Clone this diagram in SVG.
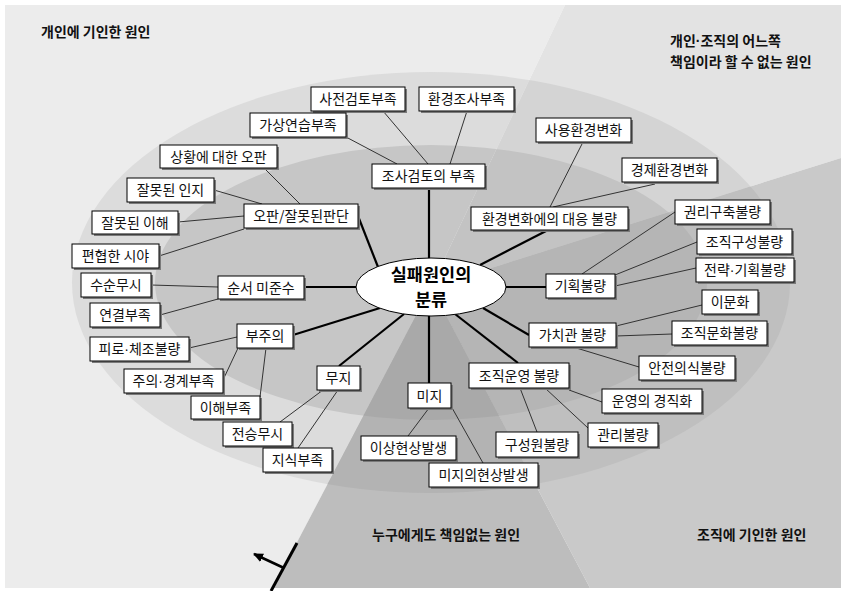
<svg xmlns="http://www.w3.org/2000/svg" width="845" height="591" viewBox="0 0 845 591">
<style>
.box{fill:#ffffff;stroke:#000000;stroke-width:1}
.sh{fill:#7a7a7a}
.t{font-family:"Noto Sans CJK KR","Noto Sans",sans-serif;font-size:14px;fill:#111111;text-anchor:middle}
.lbl{font-family:"Noto Sans CJK KR","Noto Sans",sans-serif;font-size:14px;font-weight:bold;fill:#111111}
.dot{font-family:"Liberation Sans",sans-serif}
.thin{stroke:#333333;stroke-width:1;fill:none}
.thick{stroke:#000000;stroke-width:2.2;fill:none}
.ctr{font-family:"Noto Sans CJK KR","Noto Sans",sans-serif;font-size:17.5px;font-weight:bold;fill:#000000;text-anchor:middle}
</style>
<defs>
<clipPath id="cInd"><polygon points="431,287 565,5 5,5 5,588 273,588"/></clipPath>
<clipPath id="cTr"><polygon points="431,287 565,5 841,5 841,158"/></clipPath>
<clipPath id="cOrg"><polygon points="431,287 841,158 841,588 590,588"/></clipPath>
<clipPath id="cNone"><polygon points="431,287 590,588 273,588"/></clipPath>
<marker id="ah" markerUnits="userSpaceOnUse" markerWidth="10" markerHeight="9" refX="9" refY="4.5" orient="auto"><path d="M0,0 L10,4.5 L0,9 z" fill="#000"/></marker>
</defs>
<rect x="0" y="0" width="845" height="591" fill="#ffffff"/>
<g id="background">
<g clip-path="url(#cInd)">
<rect x="5" y="5" width="836" height="583" fill="#ececec"/>
<ellipse cx="431" cy="282.5" rx="359" ry="210.5" fill="#dcdcdc"/>
<ellipse cx="431" cy="282.5" rx="276" ry="137.5" fill="#c6c6c6"/>
</g>
<g clip-path="url(#cTr)">
<rect x="5" y="5" width="836" height="583" fill="#e3e3e3"/>
<ellipse cx="431" cy="282.5" rx="359" ry="210.5" fill="#d4d4d4"/>
<ellipse cx="431" cy="282.5" rx="276" ry="137.5" fill="#c3c3c3"/>
</g>
<g clip-path="url(#cOrg)">
<rect x="5" y="5" width="836" height="583" fill="#c9c9c9"/>
<ellipse cx="431" cy="282.5" rx="359" ry="210.5" fill="#bfbfbf"/>
<ellipse cx="431" cy="282.5" rx="276" ry="137.5" fill="#b5b5b5"/>
</g>
<g clip-path="url(#cNone)">
<rect x="5" y="5" width="836" height="583" fill="#bdbdbd"/>
<ellipse cx="431" cy="282.5" rx="359" ry="210.5" fill="#b3b3b3"/>
<ellipse cx="431" cy="282.5" rx="276" ry="137.5" fill="#a9a9a9"/>
</g>
</g>
<g id="region-labels">
<text class="lbl" x="41" y="37">개인에 기인한 원인</text>
<text class="lbl" x="670" y="46">개인<tspan class="dot">·</tspan>조직의 어느쪽</text>
<text class="lbl" x="670" y="66.5">책임이라 할 수 없는 원인</text>
<text class="lbl" x="372" y="540">누구에게도 책임없는 원인</text>
<text class="lbl" x="697" y="540">조직에 기인한 원인</text>
</g>
<g id="connectors">
<line class="thin" x1="346" y1="137" x2="397" y2="164"/>
<line class="thin" x1="383" y1="111" x2="428" y2="164"/>
<line class="thin" x1="467" y1="111" x2="450" y2="164"/>
<line class="thin" x1="583" y1="142" x2="550" y2="207"/>
<line class="thin" x1="655" y1="184" x2="553" y2="207"/>
<line class="thin" x1="264" y1="168" x2="300" y2="204"/>
<line class="thin" x1="214" y1="190" x2="262" y2="204"/>
<line class="thin" x1="178" y1="222" x2="244" y2="216"/>
<line class="thin" x1="159" y1="256" x2="244" y2="229"/>
<line class="thin" x1="151" y1="285" x2="218" y2="287"/>
<line class="thin" x1="160" y1="315" x2="218" y2="299"/>
<line class="thin" x1="189" y1="348" x2="237" y2="337"/>
<line class="thin" x1="223" y1="380" x2="238" y2="348"/>
<line class="thin" x1="260" y1="397" x2="266" y2="348"/>
<line class="thin" x1="280" y1="422" x2="323" y2="390"/>
<line class="thin" x1="298" y1="448" x2="338" y2="390"/>
<line class="thin" x1="408" y1="436" x2="429" y2="408"/>
<line class="thin" x1="483" y1="463" x2="451" y2="406"/>
<line class="thin" x1="537" y1="432" x2="520" y2="388"/>
<line class="thin" x1="588" y1="428" x2="545" y2="388"/>
<line class="thin" x1="602" y1="402" x2="569" y2="390"/>
<line class="thin" x1="639" y1="367" x2="573" y2="347"/>
<line class="thin" x1="672" y1="334" x2="616" y2="336"/>
<line class="thin" x1="702" y1="305" x2="616" y2="326"/>
<line class="thin" x1="675" y1="212" x2="582" y2="274"/>
<line class="thin" x1="697" y1="242" x2="615" y2="275"/>
<line class="thin" x1="696" y1="268" x2="615" y2="286"/>
<line class="thick" x1="429" y1="188" x2="429" y2="259"/>
<line class="thick" x1="358" y1="216" x2="378" y2="267"/>
<line class="thick" x1="304" y1="287" x2="357" y2="287"/>
<line class="thick" x1="293" y1="335" x2="380" y2="308"/>
<line class="thick" x1="339" y1="366" x2="404" y2="314"/>
<line class="thick" x1="429" y1="383" x2="429" y2="316"/>
<line class="thick" x1="518" y1="363" x2="455" y2="314"/>
<line class="thick" x1="529" y1="335" x2="483" y2="308"/>
<line class="thick" x1="546" y1="287" x2="505" y2="287"/>
<line class="thick" x1="548" y1="230" x2="480" y2="265"/>
<line x1="297" y1="543" x2="271" y2="591" stroke="#000" stroke-width="3"/>
<line x1="284" y1="568" x2="254" y2="554" stroke="#000" stroke-width="2.5" marker-end="url(#ah)"/>
</g>
<g id="center">
<ellipse cx="431" cy="287" rx="75" ry="29" fill="#ffffff" stroke="#000" stroke-width="1"/>
<text class="ctr" x="431" y="280.5">실패원인의</text>
<text class="ctr" x="431" y="306">분류</text>
</g>
<g id="n1"><rect class="sh" x="313" y="89" width="94" height="24"/><rect class="box" x="311" y="87" width="94" height="24"/><text class="t" x="358" y="104">사전검토부족</text></g>
<g id="n2"><rect class="sh" x="421" y="89" width="95" height="24"/><rect class="box" x="419" y="87" width="95" height="24"/><text class="t" x="466.5" y="104">환경조사부족</text></g>
<g id="n3"><rect class="sh" x="252" y="115" width="96" height="24"/><rect class="box" x="250" y="113" width="96" height="24"/><text class="t" x="298" y="130">가상연습부족</text></g>
<g id="n4"><rect class="sh" x="374" y="166" width="113" height="24"/><rect class="box" x="372" y="164" width="113" height="24"/><text class="t" x="428.5" y="181">조사검토의 부족</text></g>
<g id="n5"><rect class="sh" x="538" y="120" width="95" height="24"/><rect class="box" x="536" y="118" width="95" height="24"/><text class="t" x="583.5" y="135">사용환경변화</text></g>
<g id="n6"><rect class="sh" x="624" y="160" width="95" height="24"/><rect class="box" x="622" y="158" width="95" height="24"/><text class="t" x="669.5" y="175">경제환경변화</text></g>
<g id="n7"><rect class="sh" x="473" y="209" width="157" height="23"/><rect class="box" x="471" y="207" width="157" height="23"/><text class="t" x="549.5" y="223.5">환경변화에의 대응 불량</text></g>
<g id="n8"><rect class="sh" x="162" y="147" width="117" height="23"/><rect class="box" x="160" y="145" width="117" height="23"/><text class="t" x="218.5" y="161.5">상황에 대한 오판</text></g>
<g id="n9"><rect class="sh" x="129" y="180" width="87" height="24"/><rect class="box" x="127" y="178" width="87" height="24"/><text class="t" x="170.5" y="195">잘못된 인지</text></g>
<g id="n10"><rect class="sh" x="246" y="206" width="114" height="24"/><rect class="box" x="244" y="204" width="114" height="24"/><text class="t" x="301" y="221">오판/잘못된판단</text></g>
<g id="n11"><rect class="sh" x="94" y="213" width="86" height="23"/><rect class="box" x="92" y="211" width="86" height="23"/><text class="t" x="135" y="227.5">잘못된 이해</text></g>
<g id="n12"><rect class="sh" x="74" y="246" width="87" height="24"/><rect class="box" x="72" y="244" width="87" height="24"/><text class="t" x="115.5" y="261">편협한 시야</text></g>
<g id="n13"><rect class="sh" x="83" y="275" width="70" height="24"/><rect class="box" x="81" y="273" width="70" height="24"/><text class="t" x="116" y="290">수순무시</text></g>
<g id="n14"><rect class="sh" x="220" y="278" width="86" height="23"/><rect class="box" x="218" y="276" width="86" height="23"/><text class="t" x="261" y="292.5">순서 미준수</text></g>
<g id="n15"><rect class="sh" x="92" y="305" width="70" height="24"/><rect class="box" x="90" y="303" width="70" height="24"/><text class="t" x="125" y="320">연결부족</text></g>
<g id="n16"><rect class="sh" x="239" y="326" width="56" height="24"/><rect class="box" x="237" y="324" width="56" height="24"/><text class="t" x="265" y="341">부주의</text></g>
<g id="n17"><rect class="sh" x="92" y="339" width="99" height="24"/><rect class="box" x="90" y="337" width="99" height="24"/><text class="t" x="139.5" y="354">피로<tspan class="dot">·</tspan>체조불량</text></g>
<g id="n18"><rect class="sh" x="126" y="371" width="99" height="24"/><rect class="box" x="124" y="369" width="99" height="24"/><text class="t" x="173.5" y="386">주의<tspan class="dot">·</tspan>경계부족</text></g>
<g id="n19"><rect class="sh" x="193" y="398" width="69" height="23"/><rect class="box" x="191" y="396" width="69" height="23"/><text class="t" x="225.5" y="412.5">이해부족</text></g>
<g id="n20"><rect class="sh" x="319" y="368" width="43" height="24"/><rect class="box" x="317" y="366" width="43" height="24"/><text class="t" x="338.5" y="383">무지</text></g>
<g id="n21"><rect class="sh" x="225" y="424" width="69" height="24"/><rect class="box" x="223" y="422" width="69" height="24"/><text class="t" x="257.5" y="439">전승무시</text></g>
<g id="n22"><rect class="sh" x="265" y="450" width="69" height="24"/><rect class="box" x="263" y="448" width="69" height="24"/><text class="t" x="297.5" y="465">지식부족</text></g>
<g id="n23"><rect class="sh" x="410" y="385" width="43" height="25"/><rect class="box" x="408" y="383" width="43" height="25"/><text class="t" x="429.5" y="400.5">미지</text></g>
<g id="n24"><rect class="sh" x="363" y="438" width="95" height="24"/><rect class="box" x="361" y="436" width="95" height="24"/><text class="t" x="408.5" y="453">이상현상발생</text></g>
<g id="n25"><rect class="sh" x="431" y="465" width="109" height="24"/><rect class="box" x="429" y="463" width="109" height="24"/><text class="t" x="483.5" y="480">미지의현상발생</text></g>
<g id="n26"><rect class="sh" x="471" y="365" width="100" height="25"/><rect class="box" x="469" y="363" width="100" height="25"/><text class="t" x="519" y="380.5">조직운영 불량</text></g>
<g id="n27"><rect class="sh" x="498" y="434" width="82" height="25"/><rect class="box" x="496" y="432" width="82" height="25"/><text class="t" x="537" y="449.5">구성원불량</text></g>
<g id="n28"><rect class="sh" x="590" y="425" width="70" height="24"/><rect class="box" x="588" y="423" width="70" height="24"/><text class="t" x="623" y="440">관리불량</text></g>
<g id="n29"><rect class="sh" x="604" y="391" width="100" height="24"/><rect class="box" x="602" y="389" width="100" height="24"/><text class="t" x="652" y="406">운영의 경직화</text></g>
<g id="n30"><rect class="sh" x="641" y="358" width="96" height="24"/><rect class="box" x="639" y="356" width="96" height="24"/><text class="t" x="687" y="373">안전의식불량</text></g>
<g id="n31"><rect class="sh" x="531" y="325" width="87" height="24"/><rect class="box" x="529" y="323" width="87" height="24"/><text class="t" x="572.5" y="340">가치관 불량</text></g>
<g id="n32"><rect class="sh" x="674" y="323" width="95" height="24"/><rect class="box" x="672" y="321" width="95" height="24"/><text class="t" x="719.5" y="338">조직문화불량</text></g>
<g id="n33"><rect class="sh" x="704" y="292" width="56" height="24"/><rect class="box" x="702" y="290" width="56" height="24"/><text class="t" x="730" y="307">이문화</text></g>
<g id="n34"><rect class="sh" x="548" y="276" width="69" height="24"/><rect class="box" x="546" y="274" width="69" height="24"/><text class="t" x="580.5" y="291">기획불량</text></g>
<g id="n35"><rect class="sh" x="698" y="260" width="98" height="24"/><rect class="box" x="696" y="258" width="98" height="24"/><text class="t" x="745" y="275">전략<tspan class="dot">·</tspan>기획불량</text></g>
<g id="n36"><rect class="sh" x="699" y="231" width="95" height="25"/><rect class="box" x="697" y="229" width="95" height="25"/><text class="t" x="744.5" y="246.5">조직구성불량</text></g>
<g id="n37"><rect class="sh" x="677" y="202" width="95" height="24"/><rect class="box" x="675" y="200" width="95" height="24"/><text class="t" x="722.5" y="217">권리구축불량</text></g>
</svg>
